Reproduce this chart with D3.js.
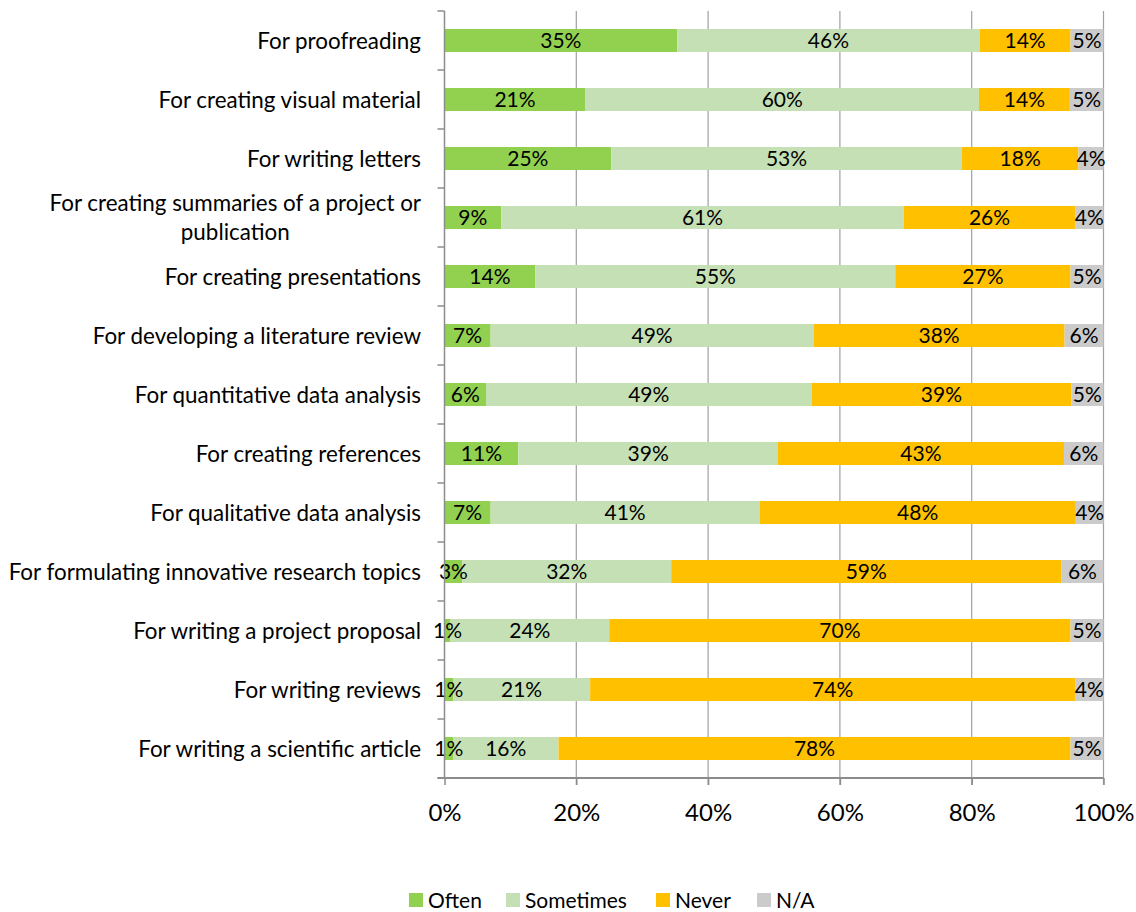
<!DOCTYPE html>
<html><head><meta charset="utf-8">
<script src="https://cdn.jsdelivr.net/npm/d3@7"></script>
<style>body{margin:0;background:#fff}text{font-family:Lato,"Open Sans",sans-serif}</style>
</head><body><svg id="c" width="1136" height="912"></svg>
<script>
const categories = [
  "For proofreading",
  "For creating visual material",
  "For writing letters",
  "For creating summaries of a project or|publication",
  "For creating presentations",
  "For developing a literature review",
  "For quantitative data analysis",
  "For creating references",
  "For qualitative data analysis",
  "For formulating innovative research topics",
  "For writing a project proposal",
  "For writing reviews",
  "For writing a scientific article"
];
const seriesNames = ["Often","Sometimes","Never","N/A"];
const often     = [35.3, 21.4, 25.3,  8.6, 13.8,  7.0,  6.3, 11.2,  7.0,  2.7, 0.9, 1.3, 1.3];
const sometimes = [45.9, 59.7, 53.2, 61.1, 54.6, 49.0, 49.4, 39.4, 40.8, 31.7, 24.1, 20.8, 16.0];
const never     = [13.8, 13.8, 17.7, 26.0, 26.6, 38.1, 39.4, 43.4, 48.0, 59.2, 70.0, 73.6, 77.7];
const na        = [ 5.0,  5.1,  3.8,  4.3,  5.0,  5.9,  4.9,  6.0,  4.2,  6.4,  5.0,  4.3,  5.0];
const xTicks = [0,20,40,60,80,100];
const colors = ["#92D050","#C5E0B4","#FFC000","#CBCBCB"];

const svg = d3.select("#c");
const m = {l:444.5, r:1103.5, t:11, b:778};
const x = d3.scaleLinear().domain([0,100]).range([m.l, m.r]);
const y = d3.scaleBand().domain(categories).range([m.t, m.b]).paddingInner(0.61).paddingOuter(0.305);

// gridlines
svg.append("g").selectAll("line").data(xTicks.slice(1)).join("line")
  .attr("x1", d=>x(d)).attr("x2", d=>x(d)).attr("y1", m.t).attr("y2", m.b+7)
  .attr("stroke","#a0a0a0").attr("stroke-width",1.2);

const rows = categories.map((c,i)=>({c, vals:[often[i],sometimes[i],never[i],na[i]]}));
const stackData = rows.map(r=>{let acc=0; return r.vals.map((v,k)=>{const s={c:r.c,k,v,x0:acc,x1:acc+v}; acc+=v; return s;});}).flat();

svg.append("g").selectAll("rect").data(stackData).join("rect")
  .attr("x", d=>x(d.x0)).attr("width", d=>x(d.x1)-x(d.x0))
  .attr("y", d=>y(d.c)).attr("height", y.bandwidth())
  .attr("fill", d=>colors[d.k]);

svg.append("g").selectAll("text").data(stackData).join("text")
  .attr("x", d=>(x(d.x0)+x(d.x1))/2).attr("y", d=>y(d.c)+y.bandwidth()/2)
  .attr("dy","0.36em").attr("text-anchor","middle").attr("font-size",21).attr("fill","#000")
  .text(d=>Math.round(d.v)+"%");

// y axis
const step = y.step();
svg.append("line").attr("x1",m.l).attr("x2",m.l).attr("y1",m.t).attr("y2",m.b).attr("stroke","#8c8c8c").attr("stroke-width",1.5);
svg.append("g").selectAll("line").data(d3.range(categories.length+1)).join("line")
  .attr("x1",m.l-7).attr("x2",m.l).attr("y1",d=>m.t+d*step).attr("y2",d=>m.t+d*step)
  .attr("stroke","#8c8c8c").attr("stroke-width",1.5);

// x axis
const xAxis = svg.append("g").attr("transform",`translate(0,${m.b})`)
  .call(d3.axisBottom(x).tickValues(xTicks).tickSize(7).tickFormat(d=>d+"%"));
xAxis.select(".domain").attr("stroke","#8c8c8c").attr("stroke-width",2).attr("d",`M${m.l-7},0H${m.r}`);
xAxis.selectAll(".tick line").attr("stroke","#8c8c8c").attr("stroke-width",1.5);
xAxis.selectAll(".tick text").attr("font-size",24).attr("font-family","Lato").attr("fill","#000").attr("y",26);

// category labels
const lab = svg.append("g").selectAll("text").data(categories).join("text")
  .attr("font-size",22.4).attr("fill","#000");
lab.each(function(c){
  const t = d3.select(this);
  const parts = c.split("|");
  const cy = y(c)+y.bandwidth()/2;
  if(parts.length===1){
    t.attr("x",421).attr("y",cy).attr("dy","0.36em").attr("text-anchor","end").text(c);
  } else {
    t.attr("text-anchor","middle");
    const tmp = t.append("tspan").text(parts[0]);
    const w = tmp.node().getComputedTextLength();
    tmp.remove();
    const cx = 421 - w/2;
    parts.forEach((p,i)=>{
      t.append("tspan").attr("x",cx).attr("y",cy+(i-(parts.length-1)/2)*29).attr("dy","0.36em").text(p);
    });
  }
});

// legend
const legX = [409,506,656,757];
const leg = svg.append("g").selectAll("g").data(seriesNames).join("g")
  .attr("transform",(d,i)=>`translate(${legX[i]},893)`);
leg.append("rect").attr("width",14).attr("height",14).attr("fill",(d,i)=>colors[i]);
leg.append("text").attr("x",19).attr("y",7).attr("dy","0.36em").attr("font-size",21).attr("fill","#000").text(d=>d);
</script></body></html>
